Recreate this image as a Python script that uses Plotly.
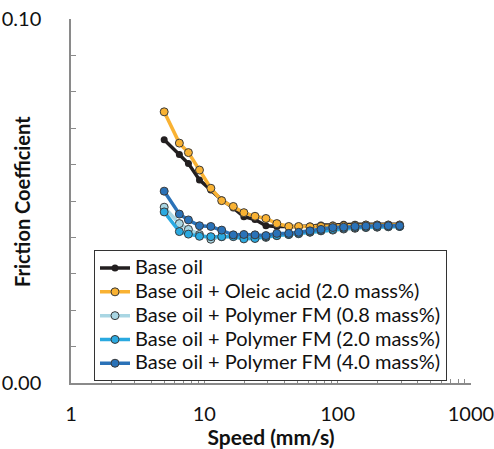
import plotly.graph_objects as go

speeds = [5.0, 6.5, 7.6, 9.2, 11.2, 13.5, 16.5, 19.8, 24, 29, 35, 43, 51, 62, 75, 92, 111, 135, 163, 198, 240, 292]

base_oil = [0.0668, 0.0628, 0.0603, 0.0558, 0.0530, 0.0503, 0.0481, 0.0457, 0.0449, 0.0432, 0.0430,
            0.0429, 0.0430, 0.0431, 0.0434, 0.0434, 0.0436, 0.0436, 0.0436, 0.0436, 0.0436, 0.0436]
oleic_2_0 = [0.0745, 0.0659, 0.0633, 0.0585, 0.0535, 0.0501, 0.0485, 0.0468, 0.0458, 0.0452, 0.0438,
             0.0430, 0.0430, 0.0429, 0.0430, 0.0431, 0.0432, 0.0433, 0.0434, 0.0434, 0.0434, 0.0434]
poly_0_8 = [0.0483, 0.0438, 0.0422, 0.0408, 0.0395, 0.0402, 0.0404, 0.0403, 0.0402, 0.0400, 0.0405,
            0.0408, 0.0410, 0.0414, 0.0418, 0.0420, 0.0423, 0.0425, 0.0427, 0.0428, 0.0429, 0.0430]
poly_2_0 = [0.0470, 0.0416, 0.0409, 0.0403, 0.0402, 0.0402, 0.0402, 0.0396, 0.0397, 0.0402, 0.0405,
            0.0408, 0.0411, 0.0415, 0.0419, 0.0422, 0.0425, 0.0427, 0.0428, 0.0429, 0.0430, 0.0430]
poly_4_0 = [0.0527, 0.0464, 0.0448, 0.0432, 0.0430, 0.0420, 0.0407, 0.0408, 0.0407, 0.0405, 0.0411,
            0.0411, 0.0414, 0.0418, 0.0422, 0.0427, 0.0428, 0.0430, 0.0431, 0.0432, 0.0432, 0.0432]

series_names = ["Base oil",
                "Base oil + Oleic acid (2.0 mass%)",
                "Base oil + Polymer FM (0.8 mass%)",
                "Base oil + Polymer FM (2.0 mass%)",
                "Base oil + Polymer FM (4.0 mass%)"]
series_values = [base_oil, oleic_2_0, poly_0_8, poly_2_0, poly_4_0]
colors = ["#231f20", "#f9b233", "#a9d6e3", "#2aa9e0", "#2a72b8"]

x_major = [1, 10, 100, 1000]
x_major_text = ["1", "10", "100", "1000"]
x_minor = [m * d for d in (1, 10, 100) for m in range(2, 10)]
y_ticks = [0, 0.1]
y_tick_text = ["0.00", "0.10"]

FONT = "Lato"

fig = go.Figure()
for i, (name, vals, col) in enumerate(zip(series_names, series_values, colors)):
    if i == 0:
        marker = dict(symbol="circle", size=7, color=col, line=dict(width=0))
    else:
        marker = dict(symbol="circle", size=8, color=col, line=dict(width=1, color="#3a3a3a"))
    fig.add_trace(go.Scatter(x=speeds, y=vals, mode="lines+markers",
                             name="<span style='font-size:20px'>" + name + "</span>",
                             line=dict(color=col, width=3.5), marker=marker))

fig.update_layout(
    width=494, height=449,
    margin=dict(l=71, r=23, t=19, b=66),
    paper_bgcolor="white", plot_bgcolor="white",
    font=dict(family=FONT, size=20, color="#111111"),
    showlegend=True,
    legend=dict(x=0.0575, y=0.365, xanchor="left", yanchor="top",
                bgcolor="white", bordercolor="#333333", borderwidth=1,
                font=dict(family=FONT, size=16, color="#111111"),
                tracegroupgap=0, itemwidth=30),
    annotations=[dict(text="<b>Friction Coefficient</b>", textangle=-90,
                      xref="paper", yref="paper", x=-0.1225, y=0.497,
                      xanchor="center", yanchor="middle", showarrow=False,
                      font=dict(family=FONT, size=20, color="#111111"))],
)
fig.update_xaxes(
    type="log", range=[0, 3.0005], automargin=False,
    showline=True, linecolor="#8a8a8a", linewidth=1.5,
    showgrid=False, zeroline=False,
    tickmode="array", tickvals=x_major, ticktext=x_major_text,
    ticks="inside", ticklen=6, tickcolor="#8a8a8a",
    ticklabelstandoff=12, ticklabeloverflow="allow",
    minor=dict(tickmode="array", tickvals=x_minor, ticks="inside", ticklen=4,
               tickcolor="#8a8a8a", showgrid=False),
    tickfont=dict(family=FONT, size=20, color="#111111"),
    title=dict(text="<b>Speed (mm/s)</b>", font=dict(family=FONT, size=21, color="#111111"), standoff=6),
)
fig.update_yaxes(
    range=[0, 0.1], automargin=False,
    showline=True, linecolor="#8a8a8a", linewidth=1.5,
    showgrid=False, zeroline=False,
    tickmode="array", tickvals=y_ticks, ticktext=y_tick_text,
    ticks="inside", ticklen=8, tickcolor="#8a8a8a",
    ticklabelstandoff=24,
    minor=dict(dtick=0.01, ticks="inside", ticklen=5, tickcolor="#8a8a8a", showgrid=False),
    tickfont=dict(family=FONT, size=20, color="#111111"),
)

fig.write_html("out.html", config={"displayModeBar": False},
               post_script="document.body.style.margin='0';document.body.style.padding='0';")
